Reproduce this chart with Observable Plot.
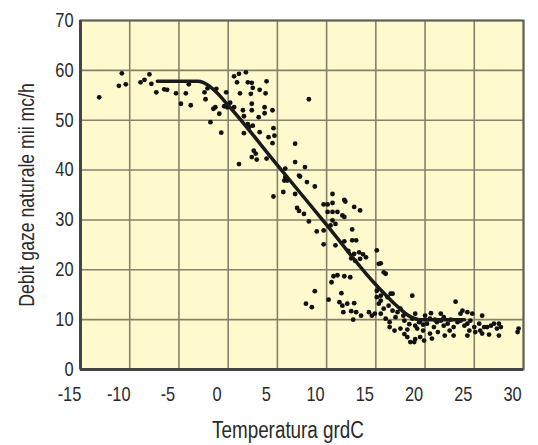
<!DOCTYPE html>
<html><head><meta charset="utf-8">
<script src="https://cdn.jsdelivr.net/npm/d3@7"></script>
<script src="https://cdn.jsdelivr.net/npm/@observablehq/plot@0.6"></script>
<style>
html,body{margin:0;padding:0;background:#fff;}
#chart svg{display:block;}
</style></head><body><div id="chart"></div>
<script>
const xTicks = [-15,-10,-5,0,5,10,15,20,25,30];
const yTicks = [0,10,20,30,40,50,60,70];
const xLabel = "Temperatura grdC";
const yLabel = "Debit gaze naturale mii mc/h";

// scatter observations: temperature (°C), flow (thousand m3/h)
const temps = [-13.1,-10.8,-11.1,-10.4,-8.9,-8.5,-8.0,-7.8,-7.3,-6.5,-6.2,-5.3,-4.8,-4.3,-3.8,-4.0,-2.3,-2.1,-1.2,-2.4,-1.3,-1.8,-0.7,-1.5,-0.9,-0.2,-0.4,-0.1,0.6,
0.6,1.1,1.8,0.9,2.0,2.4,2.5,3.9,1.2,2.3,3.2,3.8,2.4,2.4,3.7,3.7,4.5,3.1,1.6,2.1,2.0,2.5,1.6,3.2,4.6,4.7,4.1,4.5,2.6,2.8,2.4,2.9,3.9,1.1,0.2,1.5,
4.6,5.6,6.0,5.8,6.8,8.2,6.8,7.8,5.8,5.7,7.3,8.0,8.8,7.2,6.8,7.0,7.2,7.7,8.2,9.0,10.6,9.7,10.1,10.6,10.1,10.6,11.1,11.6,11.8,11.9,11.8,12.8,13.4,10.6,10.4,10.9,9.7,12.6,9.7,10.9,11.8,12.6,13.0,12.2,12.8,12.5,12.9,13.3,13.7,14.0,13.4,15.1,15.3,16.0,15.5,15.8,
10.7,11.1,11.8,12.4,10.5,8.8,11.5,7.9,8.5,10.2,11.3,11.6,12.1,12.8,11.7,12.5,13.0,13.5,12.7,14.3,14.6,14.9,16.7,18.7,15.1,15.5,15.3,15.8,16.3,16.7,17.2,17.5,17.0,15.5,16.0,16.4,16.4,16.9,17.5,17.9,18.2,18.5,19.0,17.9,18.4,18.7,19.0,19.4,19.0,15.1,15.5,16.2,16.5,
19.5,20.2,20.9,21.6,22.3,22.9,23.6,24.3,25.0,25.6,26.3,27.0,27.7,29.4,29.5,20.5,21.2,21.9,22.6,23.3,24.0,24.6,19.8,20.5,21.3,22.0,22.9,24.3,24.5,25.1,25.8,27.5,19.5,19.9,18.9,23.1,23.8,23.6,25.8,20.6,21.6,21.9,25.5,26.0,26.7,27.5,27.3,24.3,24.8,20.0,19.2,20.7,26.5,22.5,21.0,18.2,17.8,19.8];
const flows = [54.6,59.4,56.9,57.2,57.6,58.1,59.2,57.3,55.6,56.2,56.1,55.4,53.3,55.4,53.0,57.2,54.2,56.4,56.3,55.6,52.6,49.6,47.5,52.3,51.3,55.6,52.8,52.6,52.6,
58.8,59.3,59.6,57.6,57.6,57.5,56.5,57.8,55.4,55.3,56.1,55.4,53.3,52.0,52.6,51.4,52.0,50.6,50.8,48.6,49.2,48.9,47.4,47.6,48.4,46.9,46.6,45.4,43.9,43.3,42.6,42.1,42.3,41.2,53.5,52.0,
34.7,35.6,37.9,38.6,45.3,54.2,41.6,40.6,40.3,37.9,38.7,37.6,36.7,38.9,35.2,32.4,31.8,31.2,29.7,27.7,35.2,33.1,33.1,33.4,31.6,31.6,31.6,30.9,30.6,33.7,34.0,32.6,31.9,29.9,28.9,29.2,27.9,28.1,25.1,24.9,25.7,25.9,25.9,23.8,23.2,22.3,21.8,23.5,23.1,22.5,22.2,23.9,21.2,19.2,21.3,19.5,
18.7,18.9,18.7,18.5,17.5,15.7,15.3,13.2,12.5,14.0,13.5,12.8,13.2,13.3,11.5,11.7,11.5,10.8,10.0,11.5,10.8,11.2,15.2,14.8,14.5,13.8,13.2,12.2,12.8,11.8,11.5,12.2,10.5,11.2,10.2,9.5,8.5,7.8,8.2,7.1,6.5,5.5,6.1,9.8,9.1,10.2,8.8,9.5,11.2,15.8,14.8,14.5,15.2,
9.8,9.2,8.5,9.8,9.2,8.5,9.8,9.2,8.5,7.8,8.5,9.2,8.5,7.5,8.2,10.2,9.5,8.8,10.0,9.5,8.8,9.8,7.8,7.2,7.5,6.8,6.8,6.8,7.8,7.5,7.2,6.8,6.5,5.8,5.5,13.6,11.8,11.2,10.8,11.3,11.2,10.5,9.2,8.5,8.8,9.2,8.2,11.5,11.2,10.8,8.2,6.2,7.0,7.8,10.0,8.0,10.8,9.0];

// fitted curve
const fitX = [-7.2,-3.0,-2.2,-1.2,0,5,10,15,17,18.5,19.5,24];
const fitY = [57.8,57.8,57.2,55.6,53,41,29,17,13,10.6,10,10];

const pts = temps.map((t,i)=>({t, f: flows[i]}));
const fit = fitX.map((t,i)=>({t, f: fitY[i]}));

const FONT = "'Liberation Sans',Arial,sans-serif";
const chart = Plot.plot({
  width: 538, height: 445,
  marginLeft: 80, marginRight: 15, marginTop: 20, marginBottom: 76,
  style: {fontFamily: FONT, fontSize: "20px", color: "#2a2a2a", background: "#fff"},
  x: {domain: [-15, 30]},
  y: {domain: [0, 70]},
  marks: [
    Plot.frame({fill: "#fffacd", stroke: null}),
    Plot.gridX(xTicks, {stroke: "#86826a", strokeOpacity: 1, strokeWidth: 1.6}),
    Plot.gridY(yTicks, {stroke: "#86826a", strokeOpacity: 1, strokeWidth: 1.6}),
    Plot.frame({stroke: "#5e5e58", strokeWidth: 2}),
    Plot.ruleX([-15], {stroke: "#444", strokeWidth: 3}),
    Plot.ruleY([0], {stroke: "#444", strokeWidth: 3}),
    Plot.dot(pts, {x: "t", y: "f", r: 2.4, fill: "#111", stroke: null}),
    Plot.line(fit, {x: "t", y: "f", stroke: "#1a1a1a", strokeWidth: 3.5, curve: "monotone-x"}),
    Plot.axisX(xTicks, {tickSize: 0, tickPadding: 17, dx: -11, tickFormat: d => String(d), fontSize: 20,
      label: xLabel, labelAnchor: "center", labelOffset: 68, labelArrow: "none"}),
    Plot.axisY(yTicks, {tickSize: 0, tickPadding: 7, tickFormat: d => String(d), fontSize: 20,
      label: yLabel, labelAnchor: "center", labelOffset: 62, labelArrow: "none"})
  ]
});
// condense text horizontally to mimic the narrow typeface
const svg = d3.select(chart);
svg.selectAll("text").each(function() {
  const t = this.getAttribute("transform") || "";
  this.setAttribute("transform", (t + " scale(0.82,1)").trim());
});
svg.selectAll('g[aria-label="x-axis label"] text').each(function() {
  this.setAttribute("font-size", "23");
  this.style.fontSize = "23px";
  this.setAttribute("transform", "translate(-14,0) " + this.getAttribute("transform"));
});
svg.selectAll('g[aria-label="y-axis label"] text').each(function() {
  this.setAttribute("font-size", "21.5");
  this.style.fontSize = "21.5px";
});
document.getElementById("chart").appendChild(chart);
</script></body></html>
